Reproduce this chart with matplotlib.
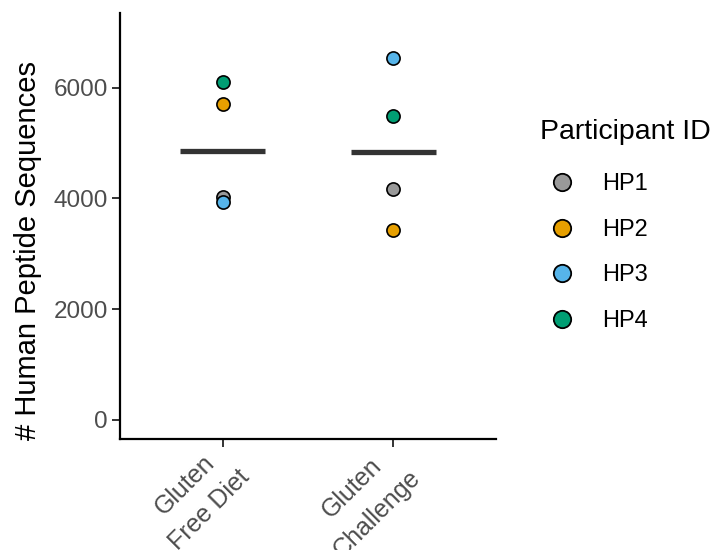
import numpy as np
import matplotlib
matplotlib.use('Agg')
import matplotlib.pyplot as plt
from matplotlib.lines import Line2D

plt.rcParams['font.family'] = ['Liberation Sans', 'DejaVu Sans']

# values
conditions = ['Gluten\nFree Diet', 'Gluten\nChallenge']
participants = ['HP1', 'HP2', 'HP3', 'HP4']
colours = ['#999999', '#E69F00', '#56B4E9', '#009E73']
gluten_free = [4030, 5700, 3930, 6100]
gluten_challenge = [4180, 3430, 6530, 5495]

fig = plt.figure(figsize=(7.13, 5.5), dpi=100)
ax = fig.add_axes([120 / 713, 110.7 / 550, 376 / 713, 426.3 / 550])

groups = [gluten_free, gluten_challenge]
for i, vals in enumerate(groups):
    x = i + 1
    # median bar
    ax.hlines(np.median(vals), x - 0.25, x + 0.25, color='#333333', lw=3.8, zorder=2)
    for v, c in zip(vals, colours):
        ax.scatter(x, v, s=90, color=c, edgecolor='black', linewidth=1.2, zorder=3)

ax.set_xlim(0.4, 2.6)
ax.set_ylim(-350, 7350)
ax.set_xticks([1, 2])
ax.set_xticklabels([])
# rotated category labels, placed by hand so they can sit up-left of the tick
for i, lab in enumerate(conditions):
    ax.annotate(lab, xy=(i + 1, 0), xycoords=ax.get_xaxis_transform(),
                xytext=(-10, -1), textcoords='offset pixels',
                rotation=45, ha='right', va='top', rotation_mode='anchor',
                multialignment='center', fontsize=18, color='#4D4D4D',
                linespacing=1.6, annotation_clip=False)
ax.set_yticks([0, 2000, 4000, 6000])
ax.set_yticklabels(['0', '2000', '4000', '6000'], fontsize=17.5, color='#4D4D4D')
ax.tick_params(axis='both', length=5.8, width=1.4, color='#333333')
ax.tick_params(axis='y', pad=3)
ax.set_ylabel('# Human Peptide Sequences', fontsize=21)
ax.yaxis.set_label_coords(-0.207, 0.444)

for side in ['top', 'right']:
    ax.spines[side].set_visible(False)
for side in ['left', 'bottom']:
    ax.spines[side].set_linewidth(1.6)
    ax.spines[side].set_color('black')

fig.text(540 / 713, 1 - 139 / 550, 'Participant ID', fontsize=20.5, ha='left', va='baseline')
handles = [Line2D([], [], ls='none', marker='o', markersize=12.5, markerfacecolor=c,
                  markeredgecolor='black', markeredgewidth=1.3) for c in colours]
leg = fig.legend(handles, participants, loc='upper left',
                 bbox_to_anchor=(517 / 713, 1 - 152 / 550), frameon=False,
                 fontsize=17, labelspacing=1.0, handletextpad=0.7, borderpad=0.4)

fig.savefig('out.png', dpi=100)
